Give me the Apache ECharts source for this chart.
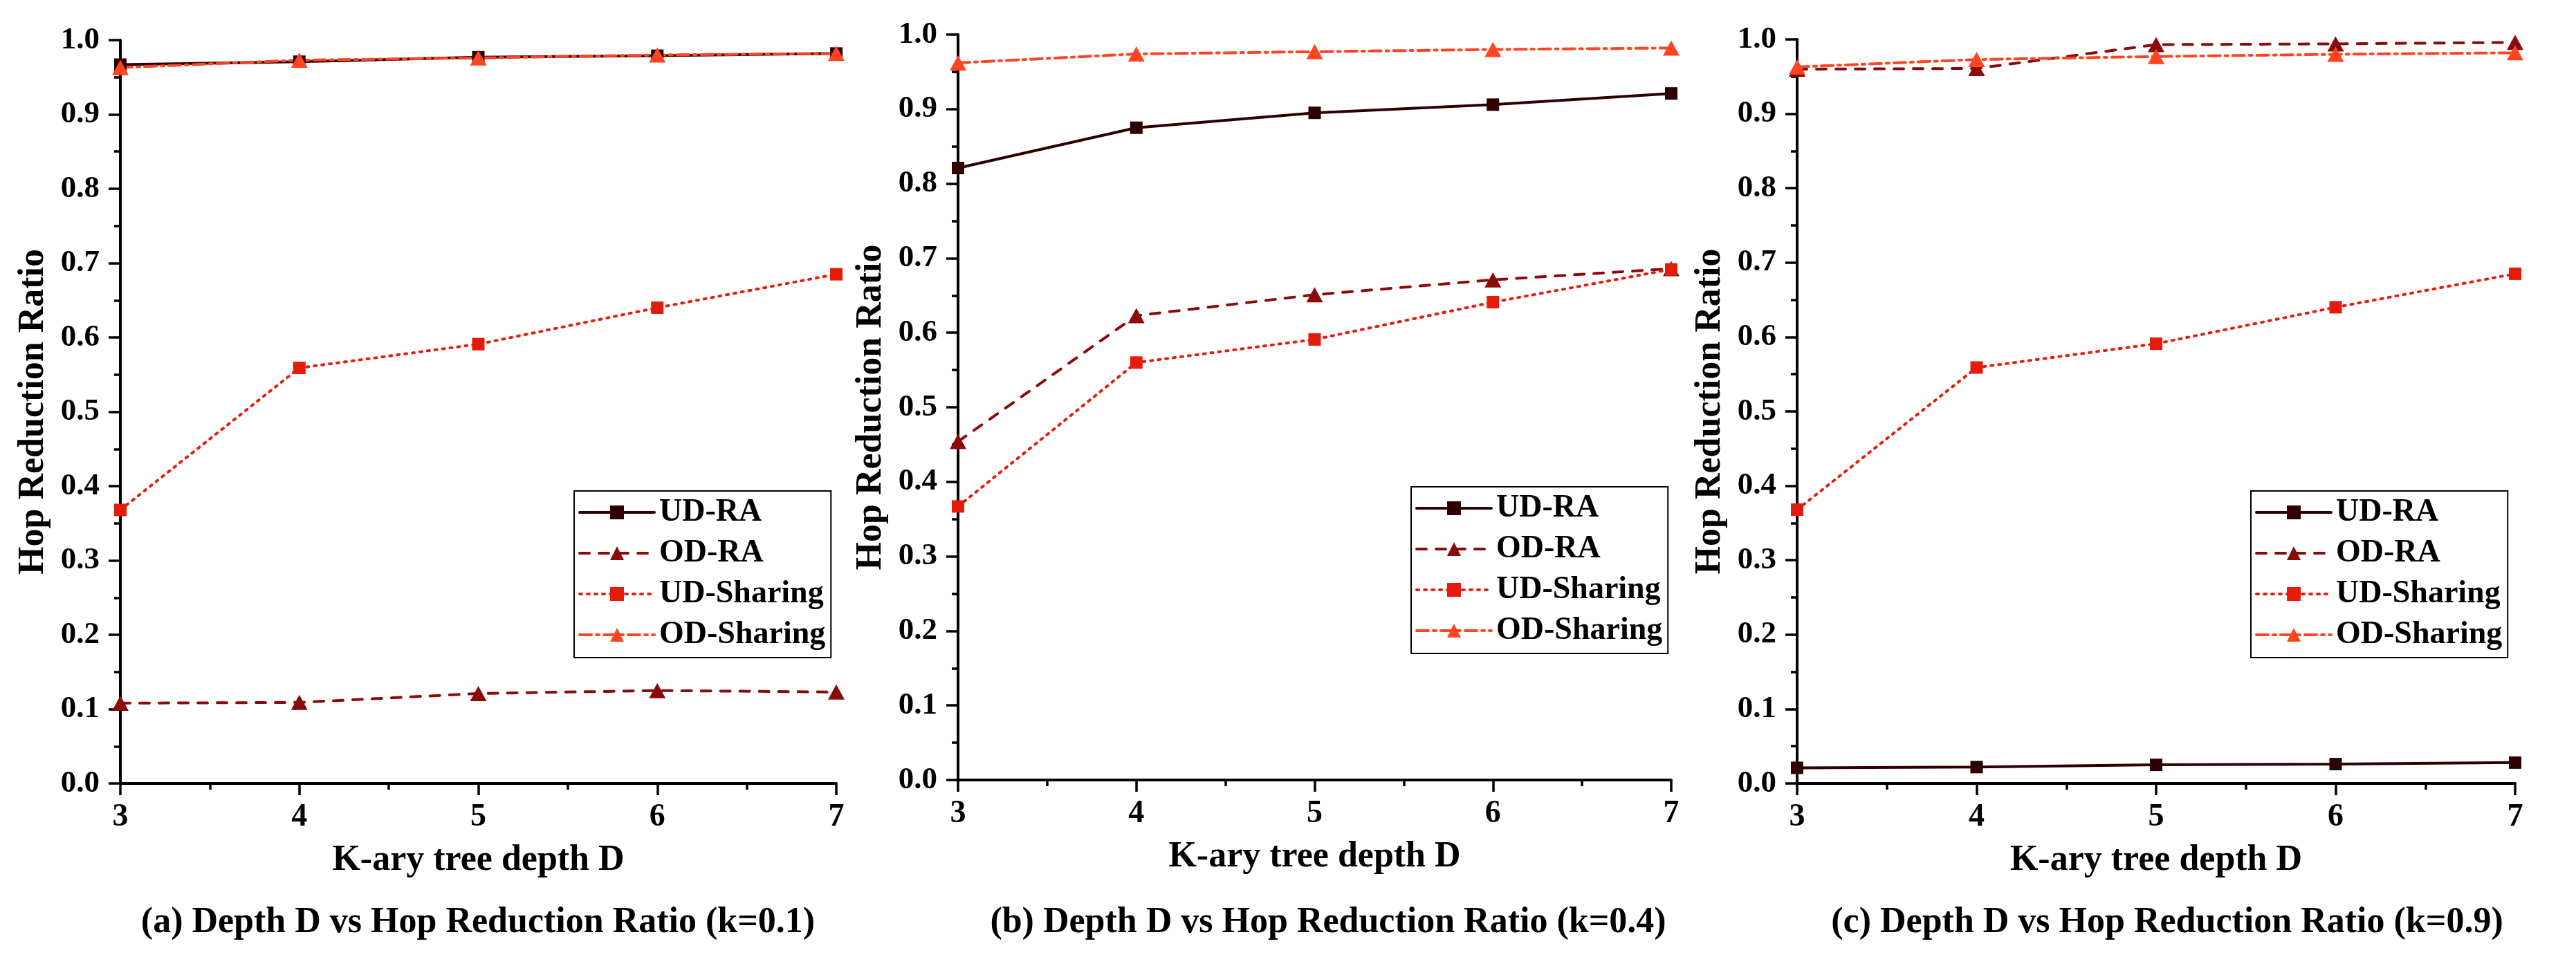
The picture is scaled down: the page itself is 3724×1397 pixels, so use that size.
<!DOCTYPE html>
<html>
<head>
<meta charset="utf-8">
<script src="https://cdn.jsdelivr.net/npm/echarts@6/dist/echarts.min.js"></script>
<style>
  html, body { margin: 0; padding: 0; background: #fff; }
  #chart { width: 3724px; height: 1397px; }
</style>
</head>
<body>
<div id="chart"></div>
<script>
// K-ary tree depth (x axis)
var depths = [3, 4, 5, 6, 7];
var seriesNames = ['UD-RA', 'OD-RA', 'UD-Sharing', 'OD-Sharing'];
var yTicks = [0, 0.1, 0.2, 0.3, 0.4, 0.5, 0.6, 0.7, 0.8, 0.9, 1.0];

// (a) k=0.1
var udRaA = [0.967, 0.971, 0.977, 0.979, 0.982];
var odRaA = [0.108, 0.109, 0.121, 0.125, 0.123];
var udShA = [0.368, 0.559, 0.591, 0.640, 0.685];
var odShA = [0.963, 0.973, 0.976, 0.980, 0.982];

// (b) k=0.4
var udRaB = [0.821, 0.875, 0.895, 0.906, 0.921];
var odRaB = [0.454, 0.623, 0.651, 0.671, 0.686];
var udShB = [0.367, 0.560, 0.591, 0.641, 0.685];
var odShB = [0.962, 0.974, 0.977, 0.980, 0.982];

// (c) k=0.9
var udRaC = [0.021, 0.022, 0.025, 0.026, 0.028];
var odRaC = [0.960, 0.961, 0.993, 0.994, 0.996];
var udShC = [0.368, 0.559, 0.591, 0.640, 0.685];
var odShC = [0.963, 0.973, 0.977, 0.980, 0.982];

var captions = [
  '(a) Depth D vs Hop Reduction Ratio (k=0.1)',
  '(b) Depth D vs Hop Reduction Ratio (k=0.4)',
  '(c) Depth D vs Hop Reduction Ratio (k=0.9)'
];
var xTitle = 'K-ary tree depth D';
var yTitle = 'Hop Reduction Ratio';

var FONT = '"Liberation Serif", "Times New Roman", serif';

function initChart() {
  var chart = echarts.init(document.getElementById('chart'), null, {renderer: 'canvas'});

  var panels = [
    [udRaA, odRaA, udShA, odShA],
    [udRaB, odRaB, udShB, odShB],
    [udRaC, odRaC, udShC, odShC]
  ];

  var grids = [
    {left: 174, top: 58, width: 1035, height: 1075},
    {left: 1385, top: 50, width: 1031, height: 1078},
    {left: 2598, top: 57, width: 1038, height: 1076}
  ];
  var legendPos = [
    {left: 830, top: 710},
    {left: 2040, top: 704},
    {left: 3254, top: 710}
  ];
  var captionX = [691, 1920, 3133];

  var styles = [
    {color: '#2e0000', symbol: 'rect', size: 18, dash: 'solid'},
    {color: '#8b0a0a', symbol: 'triangle', size: [24, 22], dash: [14, 14]},
    {color: '#e51c0c', symbol: 'rect', size: 18, dash: [3, 8]},
    {color: '#ff4422', symbol: 'triangle', size: [24, 22], dash: [17, 7, 4, 7]}
  ];

  var xAxes = [], yAxes = [], series = [], legends = [], graphics = [];

  for (var p = 0; p < 3; p++) {
    xAxes.push({
      type: 'value',
      gridIndex: p,
      min: 3,
      max: 7,
      interval: 1,
      name: xTitle,
      nameLocation: 'middle',
      nameGap: 86,
      nameTextStyle: {fontFamily: FONT, fontWeight: 'bold', fontSize: 52, color: '#000'},
      axisLine: {onZero: false, lineStyle: {color: '#000', width: 4}},
      axisTick: {length: 17, lineStyle: {color: '#000', width: 3.5}},
      minorTick: {show: true, splitNumber: 2, length: 9, lineStyle: {color: '#000', width: 3.5}},
      splitLine: {show: false},
      axisLabel: {fontFamily: FONT, fontWeight: 'bold', fontSize: 46, color: '#000', margin: 26}
    });
    yAxes.push({
      type: 'value',
      gridIndex: p,
      min: yTicks[0],
      max: yTicks[yTicks.length - 1],
      interval: 0.1,
      name: yTitle,
      nameLocation: 'middle',
      nameGap: 99,
      nameTextStyle: {fontFamily: FONT, fontWeight: 'bold', fontSize: 52, color: '#000'},
      axisLine: {show: true, onZero: false, lineStyle: {color: '#000', width: 4}},
      axisTick: {show: true, length: 17, lineStyle: {color: '#000', width: 3.5}},
      minorTick: {show: true, splitNumber: 2, length: 9, lineStyle: {color: '#000', width: 3.5}},
      splitLine: {show: false},
      axisLabel: {
        fontFamily: FONT, fontWeight: 'bold', fontSize: 45, color: '#000', margin: 30,
        formatter: function(v) { return v.toFixed(1); }
      }
    });

    for (var s = 0; s < 4; s++) {
      var vals = panels[p][s];
      var pts = [];
      for (var i = 0; i < depths.length; i++) {
        pts.push([depths[i], vals[i]]);
      }
      series.push({
        name: seriesNames[s],
        type: 'line',
        xAxisIndex: p,
        yAxisIndex: p,
        data: pts,
        symbol: styles[s].symbol,
        symbolSize: styles[s].size,
        showSymbol: true,
        showAllSymbol: true,
        animation: false,
        lineStyle: {color: styles[s].color, width: 4, type: styles[s].dash, cap: 'round'},
        itemStyle: {color: styles[s].color}
      });
    }

    legends.push({
      data: seriesNames,
      orient: 'vertical',
      left: legendPos[p].left,
      top: legendPos[p].top,
      itemWidth: 108,
      itemHeight: 25,
      itemGap: 13,
      padding: [8, 8, 10, 6],
      backgroundColor: '#fff',
      borderColor: '#000',
      borderWidth: 2,
      borderRadius: 0,
      selectedMode: false,
      lineStyle: {width: 4},
      textStyle: {fontFamily: FONT, fontWeight: 'bold', fontSize: 46, color: '#000', padding: [0, 0, 0, 2]}
    });

    // caption under each panel
    graphics.push({
      type: 'text',
      x: captionX[p],
      y: 1335,
      silent: true,
      style: {
        text: captions[p],
        font: 'bold 52px ' + FONT,
        fill: '#000',
        align: 'center',
        verticalAlign: 'middle'
      }
    });
  }

  chart.setOption({
    animation: false,
    backgroundColor: '#fff',
    grid: grids,
    xAxis: xAxes,
    yAxis: yAxes,
    legend: legends,
    series: series,
    graphic: graphics
  });
}

initChart();
</script>
</body>
</html>
